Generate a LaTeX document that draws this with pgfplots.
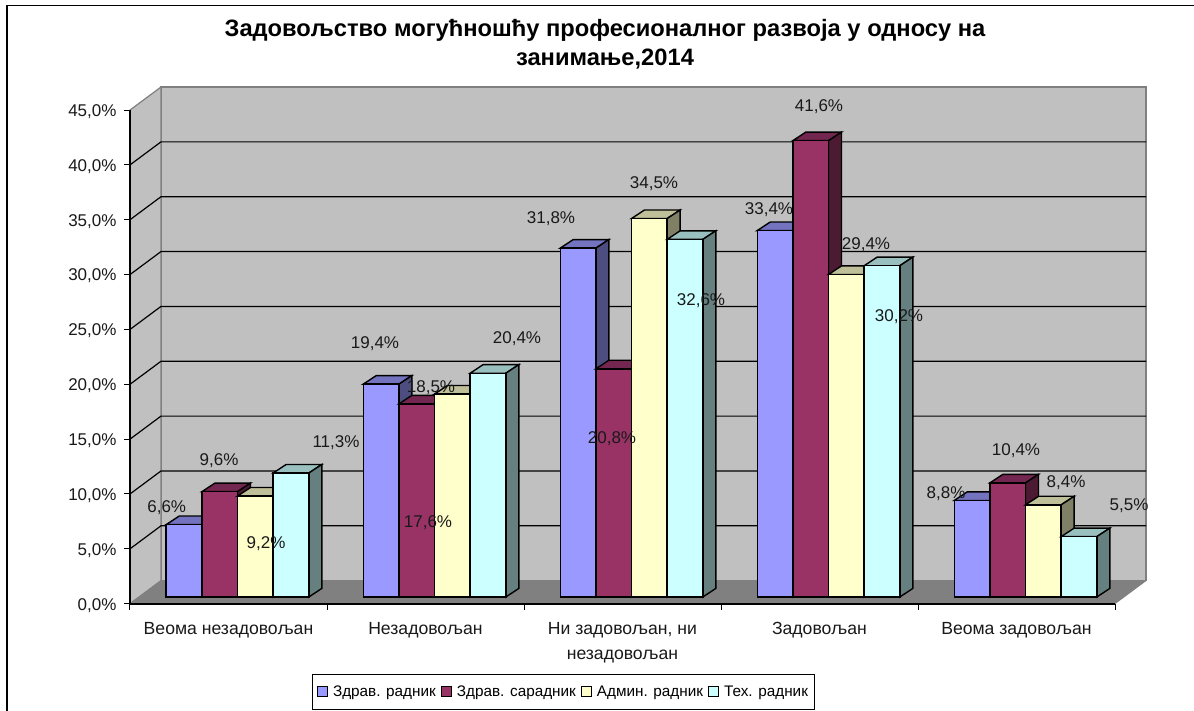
\documentclass[border=0pt]{standalone}
\usepackage{fontspec}
\setmainfont{Liberation Sans}
\usepackage{pgfplots}
\pgfplotsset{compat=1.18}

% faces of the bars: f front, t top, s side
\definecolor{adrf}{HTML}{9999FF}\definecolor{adrt}{HTML}{7373BF}\definecolor{adrs}{HTML}{4D4D80}
\definecolor{bsaf}{HTML}{993366}\definecolor{bsat}{HTML}{732650}\definecolor{bsas}{HTML}{4D1A33}
\definecolor{cadf}{HTML}{FFFFCC}\definecolor{cadt}{HTML}{BFBF99}\definecolor{cads}{HTML}{808066}
\definecolor{dtef}{HTML}{CCFFFF}\definecolor{dtet}{HTML}{99BFBF}\definecolor{dtes}{HTML}{668080}
\definecolor{wall}{HTML}{C0C0C0}
\definecolor{floorc}{HTML}{808080}

% #1 group, #2 series, #3 value, #4 colour prefix
\newcommand\threedbar[4]{%
  \pgfmathsetmacro\xa{166.2+197*#1+35.65*#2}%
  \pgfmathsetmacro\xb{\xa+35.65}%
  \pgfmathsetmacro\xc{\xb+13}%
  \pgfmathsetmacro\xd{\xa+13}%
  \pgfmathsetmacro\ya{0.61}%
  \pgfmathsetmacro\yb{0.61+#3}%
  \pgfmathsetmacro\yc{\yb+0.78}%
  \pgfmathsetmacro\yd{\ya+0.78}%
  \edef\tmp{\noexpand\addplot[barface,fill=#4t] coordinates {(\xa,\yb)(\xd,\yc)(\xc,\yc)(\xb,\yb)} -- cycle;
    \noexpand\addplot[barface,fill=#4s] coordinates {(\xb,\ya)(\xc,\yd)(\xc,\yc)(\xb,\yb)} -- cycle;
    \noexpand\addplot[barface,fill=#4f] coordinates {(\xa,\ya)(\xb,\ya)(\xb,\yb)(\xa,\yb)} -- cycle;}%
  \tmp}
\newcommand\gridrow[1]{%
  \pgfmathsetmacro\yb{#1+2.1}%
  \edef\tmp{\noexpand\addplot[black,line width=1.2pt,forget plot] coordinates {(130,#1)(161,\yb)(1146,\yb)};}%
  \tmp}
% text placed by reference pixel position
\newcommand\lab[3]{\node[font=\fontsize{17}{20}\selectfont,text=black!90] at (axis cs:#1,{(602.2-#2)/10.97}) {#3};}

\begin{document}
\begin{tikzpicture}[x=1pt,y=1pt]
  \useasboundingbox (-130,-107.3) rectangle (1064,603.7);
  \draw[black,line width=1.4pt] (-123,-120) -- (-123,598) -- (1070,598);
  \begin{axis}[
    at={(0,0)}, anchor=origin,
    scale only axis,
    width=985pt, height=493.65pt,
    xmin=130, xmax=1115,
    ymin=0, ymax=45,
    clip=false,
    axis on top,
    axis x line*=bottom,
    axis y line*=left,
    x axis line style={-,line width=1.8pt},
    y axis line style={-,line width=1.2pt},
    barface/.style={draw=black,line width=1.4pt,line join=miter,forget plot},
    tick align=outside,
    tick style={black,line width=1pt},
    ytick={0,5,...,45},
    yticklabel={\pgfmathparse{\tick}\pgfmathprintnumber[fixed,fixed zerofill,precision=1,use comma,assume math mode=true]{\pgfmathresult}\%},
    major tick length=6pt,
    minor tick length=6pt,
    major x tick style={draw=none},
    xtick={228.5,425.5,622.5,819.5,1016.5},
    xticklabels={Веома незадовољан,Незадовољан,{Ни задовољан, ни\\[5pt]незадовољан},Задовољан,Веома задовољан},
    minor xtick={130,327,524,721,918,1115},
    every tick label/.append style={font=\fontsize{17.6}{20}\selectfont,text=black!90},
    y tick label style={font=\fontsize{17}{20}\selectfont,xshift=-4pt,yshift=-1.5pt},
    xticklabel style={align=center,yshift=-9pt},
    legend columns=-1,
    legend style={at={(axis cs:563.5,-8.03)},anchor=center,draw=black,line width=1pt,
      font=\fontsize{15.3}{19}\selectfont,inner xsep=4.5pt,inner ysep=9.5pt,
      /tikz/every even column/.append style={column sep=3pt}},
    legend image code/.code={\draw[#1,line width=1pt] (0pt,-5pt) rectangle (10pt,5pt);\path (13pt,0pt);},
  ]
    % walls and floor
    \addplot[fill=wall,draw=floorc,line width=1.2pt,forget plot] coordinates {(161,2.1)(1146,2.1)(1146,47.1)(161,47.1)} -- cycle;
    \addplot[fill=wall,draw=floorc,line width=1.2pt,forget plot] coordinates {(130,0)(161,2.1)(161,47.1)(130,45)} -- cycle;
    \addplot[fill=floorc,draw=floorc,line width=0.8pt,forget plot] coordinates {(130,0)(161,2.1)(1146,2.1)(1115,0)} -- cycle;
    \gridrow{5}\gridrow{10}\gridrow{15}\gridrow{20}\gridrow{25}\gridrow{30}\gridrow{35}\gridrow{40}

    \threedbar{0}{0}{6.6}{adr}\threedbar{0}{1}{9.6}{bsa}\threedbar{0}{2}{9.2}{cad}\threedbar{0}{3}{11.3}{dte}
    \threedbar{1}{0}{19.4}{adr}\threedbar{1}{1}{17.6}{bsa}\threedbar{1}{2}{18.5}{cad}\threedbar{1}{3}{20.4}{dte}
    \threedbar{2}{0}{31.8}{adr}\threedbar{2}{1}{20.8}{bsa}\threedbar{2}{2}{34.5}{cad}\threedbar{2}{3}{32.6}{dte}
    \threedbar{3}{0}{33.4}{adr}\threedbar{3}{1}{41.6}{bsa}\threedbar{3}{2}{29.4}{cad}\threedbar{3}{3}{30.2}{dte}
    \threedbar{4}{0}{8.8}{adr}\threedbar{4}{1}{10.4}{bsa}\threedbar{4}{2}{8.4}{cad}\threedbar{4}{3}{5.5}{dte}

    % legend
    \addlegendimage{draw=black,fill=adrf}\addlegendentry{Здрав. радник}
    \addlegendimage{draw=black,fill=bsaf}\addlegendentry{Здрав. сарадник}
    \addlegendimage{draw=black,fill=cadf}\addlegendentry{Админ. радник}
    \addlegendimage{draw=black,fill=dtef}\addlegendentry{Тех. радник}

    % data labels, where the reference puts them
    \lab{166.7}{506}{6,6\%}\lab{219}{459}{9,6\%}\lab{266}{542}{9,2\%}\lab{336}{441}{11,3\%}
    \lab{375}{342}{19,4\%}\lab{428}{521}{17,6\%}\lab{431}{386}{18,5\%}\lab{517}{337}{20,4\%}
    \lab{551}{217}{31,8\%}\lab{612}{437}{20,8\%}\lab{654}{182}{34,5\%}\lab{701}{299}{32,6\%}
    \lab{769}{208}{33,4\%}\lab{819}{105}{41,6\%}\lab{866}{243}{29,4\%}\lab{899}{315}{30,2\%}
    \lab{946}{492}{8,8\%}\lab{1016}{449}{10,4\%}\lab{1066}{481}{8,4\%}\lab{1129}{504}{5,5\%}

    % title
    \node[font=\fontsize{23.7}{29.5}\selectfont\bfseries,align=center,text=black] at (axis cs:605,{(603.7-44.5)/10.97})
      {Задовољство могућношћу професионалног развоја у односу на\\занимање,2014};
  \end{axis}
\end{tikzpicture}
\end{document}
